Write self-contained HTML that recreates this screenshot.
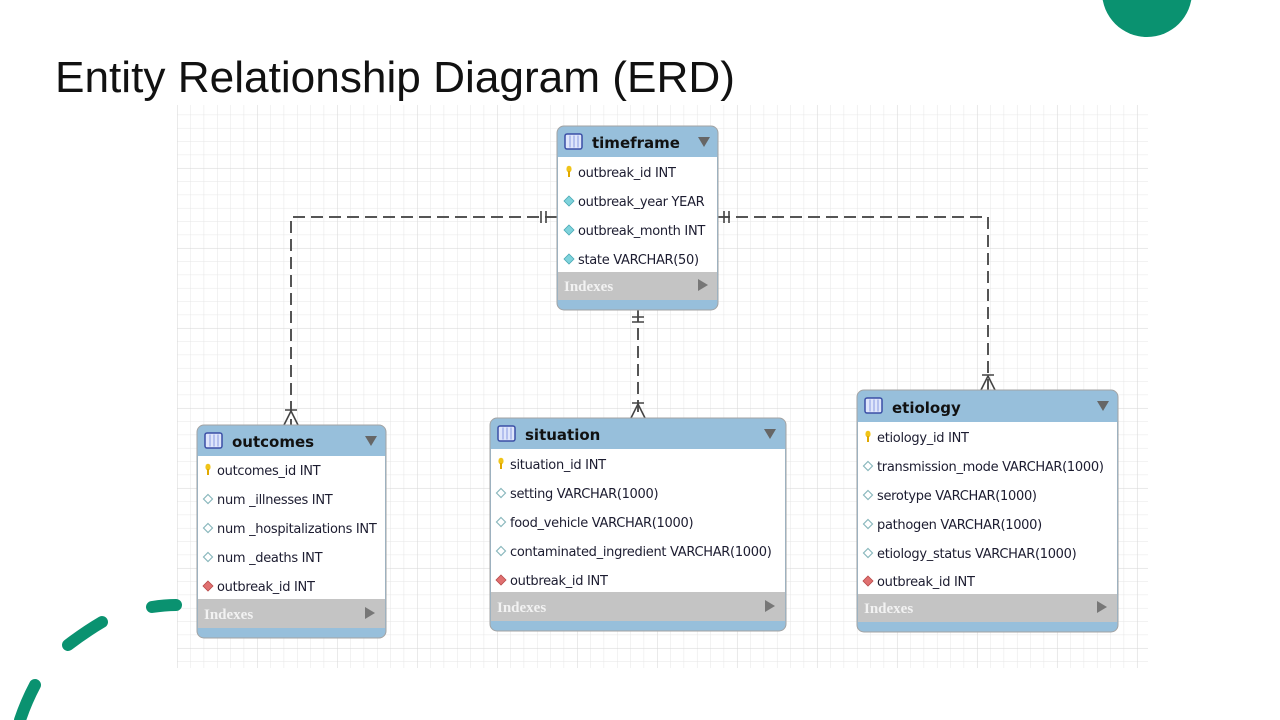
<!DOCTYPE html>
<html><head><meta charset="utf-8"><style>
html,body{margin:0;padding:0;background:#fff;width:1280px;height:720px;overflow:hidden}
svg{display:block}
.t{font-family:"DejaVu Sans","Liberation Sans",sans-serif;font-size:13px;fill:#1c1c30;letter-spacing:-0.3px}
.h{font-family:"DejaVu Sans","Liberation Sans",sans-serif;font-size:15px;font-weight:bold;fill:#111}
.ix{font-family:"Liberation Serif",serif;font-size:15px;font-weight:bold;fill:#f2f2f2}
</style></head><body>
<svg width="1280" height="720" viewBox="0 0 1280 720" xmlns="http://www.w3.org/2000/svg">
<defs>
<pattern id="minor" x="177" y="101.3" width="13.333" height="13.333" patternUnits="userSpaceOnUse">
<path d="M0 0V13.333M0 0H13.333" stroke="#e6e6e6" stroke-width="1" fill="none"/>
</pattern>
<pattern id="major" x="257" y="168" width="80" height="80" patternUnits="userSpaceOnUse">
<path d="M0 0V80M0 0H80" stroke="#d6d6d6" stroke-width="1" fill="none"/>
</pattern>
<g id="key"><ellipse cx="0" cy="-3" rx="2.6" ry="3.3" fill="#f0c419"/><rect x="-1" y="-1" width="2" height="6" fill="#e0a800"/></g>
<g id="dfill"><path d="M0 -5L5 0L0 5L-5 0Z" fill="#7fd3dc" stroke="#4aa9b5" stroke-width="0.8"/></g>
<g id="dhol"><path d="M0 -4.5L4.5 0L0 4.5L-4.5 0Z" fill="#fff" stroke="#8ab8bd" stroke-width="1.2"/></g>
<g id="dred"><path d="M0 -5L5 0L0 5L-5 0Z" fill="#e07070" stroke="#b84a4a" stroke-width="0.8"/></g>
<g id="ticon"><rect x="0" y="0" width="17" height="15" rx="2" fill="#dfe6fb" stroke="#3a4fa6" stroke-width="1.5"/><path d="M5 1.5V13.5M9 1.5V13.5M13 1.5V13.5" stroke="#8a9be0" stroke-width="1"/></g>
</defs>

<rect x="177" y="105" width="971" height="563" fill="#fff"/>
<rect x="177" y="105" width="971" height="563" fill="url(#minor)"/>
<rect x="177" y="105" width="971" height="563" fill="url(#major)"/>

<text x="55" y="92" font-family="'Liberation Sans',sans-serif" font-size="44" fill="#111" textLength="680" lengthAdjust="spacingAndGlyphs">Entity Relationship Diagram (ERD)</text>

<circle cx="1147" cy="-8" r="45" fill="#0a9270"/>
<g stroke="#0a9270" stroke-width="12" stroke-linecap="round" fill="none">
<path d="M152 607 Q165 605 176 605"/>
<path d="M68 645 Q85 632 102 622"/>
<path d="M35 685 Q26 702 20 720"/>
</g>

<!-- connectors -->
<g stroke="#555" stroke-width="2" fill="none" stroke-dasharray="12,6">
<path d="M557 217 H291 V425"/>
<path d="M718 217 H988 V390"/>
<path d="M638 310 V418"/>
</g>
<g stroke="#444" stroke-width="1.6" fill="none">
<path d="M541 211V223M546 211V223"/>
<path d="M724 211V223M729 211V223"/>
<path d="M632 317H644M632 322H644"/>
<path d="M285 410H297M291 411L284 425M291 411L298 425"/>
<path d="M982 375H994M988 376L981 390M988 376L995 390"/>
<path d="M632 403H644M638 404L631 418M638 404L645 418"/>
</g>

<!-- timeframe -->
<g>
<rect x="557" y="126" width="161" height="184" rx="7" fill="#97bfdb" stroke="#a3a3a3"/>
<rect x="558" y="157" width="159" height="115" fill="#fff"/>
<rect x="558" y="272" width="159" height="28" fill="#c4c4c4"/>
<use href="#ticon" x="565" y="134"/>
<text class="h" x="592" y="148">timeframe</text>
<path d="M698 137H710L704 147Z" fill="#666"/>
<use href="#key" x="569" y="172"/><text class="t" x="578" y="177">outbreak_id INT</text>
<use href="#dfill" x="569" y="201"/><text class="t" x="578" y="206">outbreak_year YEAR</text>
<use href="#dfill" x="569" y="230"/><text class="t" x="578" y="235">outbreak_month INT</text>
<use href="#dfill" x="569" y="259"/><text class="t" x="578" y="264">state VARCHAR(50)</text>
<text class="ix" x="564" y="291">Indexes</text>
<path d="M698 279L708 285L698 291Z" fill="#777"/>
</g>

<!-- outcomes -->
<g>
<rect x="197" y="425" width="189" height="213" rx="7" fill="#97bfdb" stroke="#a3a3a3"/>
<rect x="198" y="456" width="187" height="143" fill="#fff"/>
<rect x="198" y="599" width="187" height="29" fill="#c4c4c4"/>
<use href="#ticon" x="205" y="433"/>
<text class="h" x="232" y="447">outcomes</text>
<path d="M365 436H377L371 446Z" fill="#666"/>
<use href="#key" x="208" y="470"/><text class="t" x="217" y="475">outcomes_id INT</text>
<use href="#dhol" x="208" y="499"/><text class="t" x="217" y="504">num _illnesses INT</text>
<use href="#dhol" x="208" y="528"/><text class="t" x="217" y="533">num _hospitalizations INT</text>
<use href="#dhol" x="208" y="557"/><text class="t" x="217" y="562">num _deaths INT</text>
<use href="#dred" x="208" y="586"/><text class="t" x="217" y="591">outbreak_id INT</text>
<text class="ix" x="204" y="619">Indexes</text>
<path d="M365 607L375 613L365 619Z" fill="#777"/>
</g>

<!-- situation -->
<g>
<rect x="490" y="418" width="296" height="213" rx="7" fill="#97bfdb" stroke="#a3a3a3"/>
<rect x="491" y="449" width="294" height="143" fill="#fff"/>
<rect x="491" y="592" width="294" height="29" fill="#c4c4c4"/>
<use href="#ticon" x="498" y="426"/>
<text class="h" x="525" y="440">situation</text>
<path d="M764 429H776L770 439Z" fill="#666"/>
<use href="#key" x="501" y="464"/><text class="t" x="510" y="469">situation_id INT</text>
<use href="#dhol" x="501" y="493"/><text class="t" x="510" y="498">setting VARCHAR(1000)</text>
<use href="#dhol" x="501" y="522"/><text class="t" x="510" y="527">food_vehicle VARCHAR(1000)</text>
<use href="#dhol" x="501" y="551"/><text class="t" x="510" y="556">contaminated_ingredient VARCHAR(1000)</text>
<use href="#dred" x="501" y="580"/><text class="t" x="510" y="585">outbreak_id INT</text>
<text class="ix" x="497" y="612">Indexes</text>
<path d="M765 600L775 606L765 612Z" fill="#777"/>
</g>

<!-- etiology -->
<g>
<rect x="857" y="390" width="261" height="242" rx="7" fill="#97bfdb" stroke="#a3a3a3"/>
<rect x="858" y="422" width="259" height="172" fill="#fff"/>
<rect x="858" y="594" width="259" height="28" fill="#c4c4c4"/>
<use href="#ticon" x="865" y="398"/>
<text class="h" x="892" y="413">etiology</text>
<path d="M1097 401H1109L1103 411Z" fill="#666"/>
<use href="#key" x="868" y="437"/><text class="t" x="877" y="442">etiology_id INT</text>
<use href="#dhol" x="868" y="466"/><text class="t" x="877" y="471">transmission_mode VARCHAR(1000)</text>
<use href="#dhol" x="868" y="495"/><text class="t" x="877" y="500">serotype VARCHAR(1000)</text>
<use href="#dhol" x="868" y="524"/><text class="t" x="877" y="529">pathogen VARCHAR(1000)</text>
<use href="#dhol" x="868" y="553"/><text class="t" x="877" y="558">etiology_status VARCHAR(1000)</text>
<use href="#dred" x="868" y="581"/><text class="t" x="877" y="586">outbreak_id INT</text>
<text class="ix" x="864" y="613">Indexes</text>
<path d="M1097 601L1107 607L1097 613Z" fill="#777"/>
</g>
</svg>
</body></html>
